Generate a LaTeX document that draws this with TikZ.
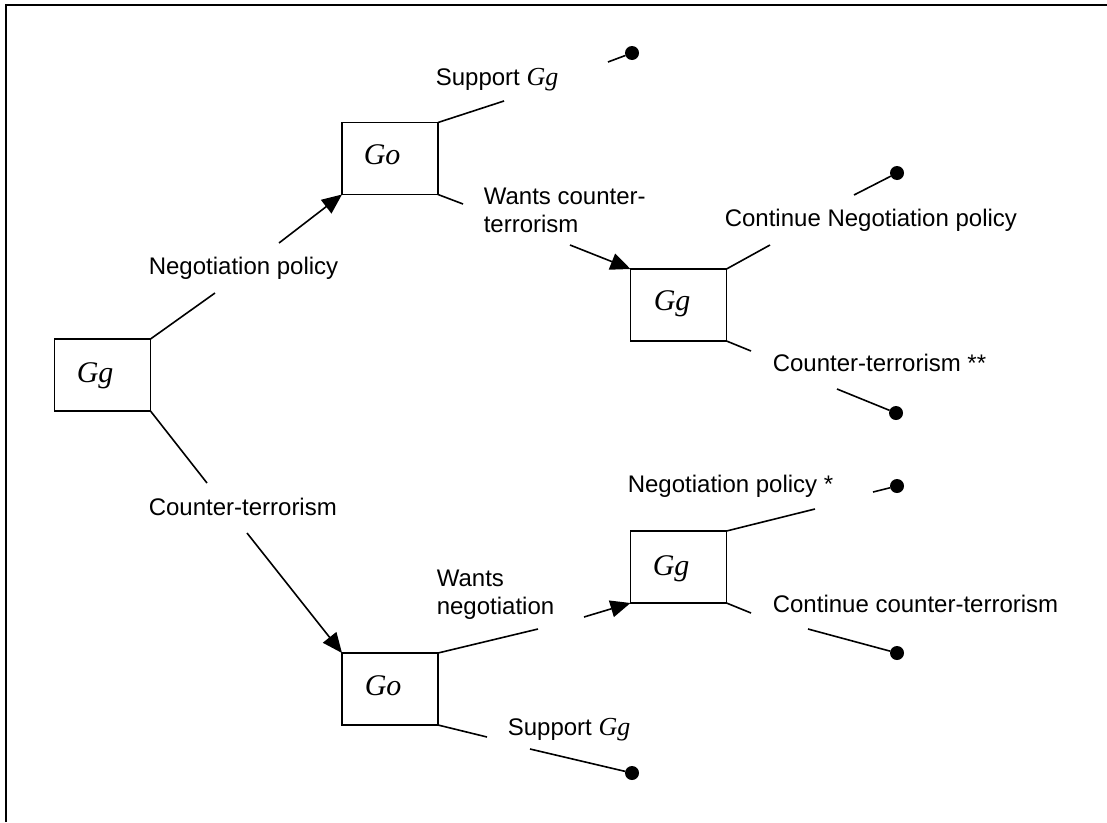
\documentclass[tikz,border=0pt]{standalone}
\usepackage{fontspec}
\setmainfont{Liberation Sans}
\newfontfamily\timesf{Liberation Serif}
\usetikzlibrary{arrows.meta}
\begin{document}
\begin{tikzpicture}[x=1pt,y=-1pt,line width=1.6pt,
  gbox/.style={draw,rectangle,minimum width=96pt,minimum height=72pt,inner sep=0pt,outer sep=0pt},
  lbl/.style={anchor=base west,inner sep=0pt,align=left,font=\fontsize{24}{27.6}\selectfont},
  blbl/.style={anchor=base west,inner sep=0pt,font=\fontsize{30}{34}\selectfont\timesf\itshape},
  enddot/.style={circle,fill,inner sep=0pt,minimum size=14pt,outer sep=0pt},
  arr/.style={-{Triangle[length=20pt,width=17pt]}}]
\useasboundingbox (0,0) rectangle (1107,822);
\draw[line width=2pt] (6,822) -- (6,5) -- (1107,5);
% boxes
\node[gbox] (g1) at (102.5,375) {};
\node[gbox] (o1) at (390,158.5) {};
\node[gbox] (g2) at (678.5,305) {};
\node[gbox] (o2) at (390,689) {};
\node[gbox] (g3) at (678.5,567) {};
\node[blbl] (g1t) at (76,382) {Gg};
\node[blbl] (o1t) at (363,164) {Go};
\node[blbl] (g2t) at (653,310) {Gg};
\node[blbl] (o2t) at (364,695) {Go};
\node[blbl] (g3t) at (652,575) {Gg};
% labels
\node[lbl] (l1) at (148,274.5) {Negotiation policy};
\node[lbl] (l2) at (148,515) {Counter-terrorism};
\node[lbl] (l3) at (435,85) {Support {\fontsize{26}{28}\selectfont\timesf\itshape Gg}};
\node[lbl] (l4) at (483,232) {Wants counter-\\terrorism};
\node[lbl] (l5) at (724,226) {Continue Negotiation policy};
\node[lbl] (l6) at (772,371) {Counter-terrorism **};
\node[lbl] (l7) at (436,614) {Wants\\negotiation};
\node[lbl] (l8) at (507,735) {Support {\fontsize{26}{28}\selectfont\timesf\itshape Gg}};
\node[lbl] (l9) at (627,492) {Negotiation policy *};
\node[lbl] (l10) at (772,612) {Continue counter-terrorism};
% end dots
\node[enddot] (d1) at (632,53) {};
\node[enddot] (d2) at (897,173) {};
\node[enddot] (d3) at (896,413) {};
\node[enddot] (d4) at (632,773) {};
\node[enddot] (d5) at (897,486) {};
\node[enddot] (d6) at (897,653) {};
% break points
\coordinate (a1) at (215,293); \coordinate (a2) at (279,243);
\coordinate (b1) at (207,483); \coordinate (b2) at (247,533);
\coordinate (c1) at (504,101); \coordinate (c2) at (608,62);
\coordinate (e1) at (463,204); \coordinate (e2) at (570,245);
\coordinate (f1) at (770,245); \coordinate (f2) at (854,195);
\coordinate (m1) at (751,351); \coordinate (m2) at (837,389);
\coordinate (h1) at (538,629); \coordinate (h2) at (584,617);
\coordinate (i1) at (487,737); \coordinate (i2) at (530,749);
\coordinate (j1) at (815,509); \coordinate (j2) at (873,492);
\coordinate (k1) at (751,613); \coordinate (k2) at (808,629);
% connectors
\draw (g1.north east) -- (a1);
\draw[arr] (a2) -- (o1.south west);
\draw (g1.south east) -- (b1);
\draw[arr] (b2) -- (o2.north west);
\draw (o1.north east) -- (c1);
\draw (c2) -- (d1);
\draw (o1.south east) -- (e1);
\draw[arr] (e2) -- (g2.north west);
\draw (g2.north east) -- (f1);
\draw (f2) -- (d2);
\draw (g2.south east) -- (m1);
\draw (m2) -- (d3);
\draw (o2.north east) -- (h1);
\draw[arr] (h2) -- (g3.south west);
\draw (o2.south east) -- (i1);
\draw (i2) -- (d4);
\draw (g3.north east) -- (j1);
\draw (j2) -- (d5);
\draw (g3.south east) -- (k1);
\draw (k2) -- (d6);
\end{tikzpicture}
\end{document}
